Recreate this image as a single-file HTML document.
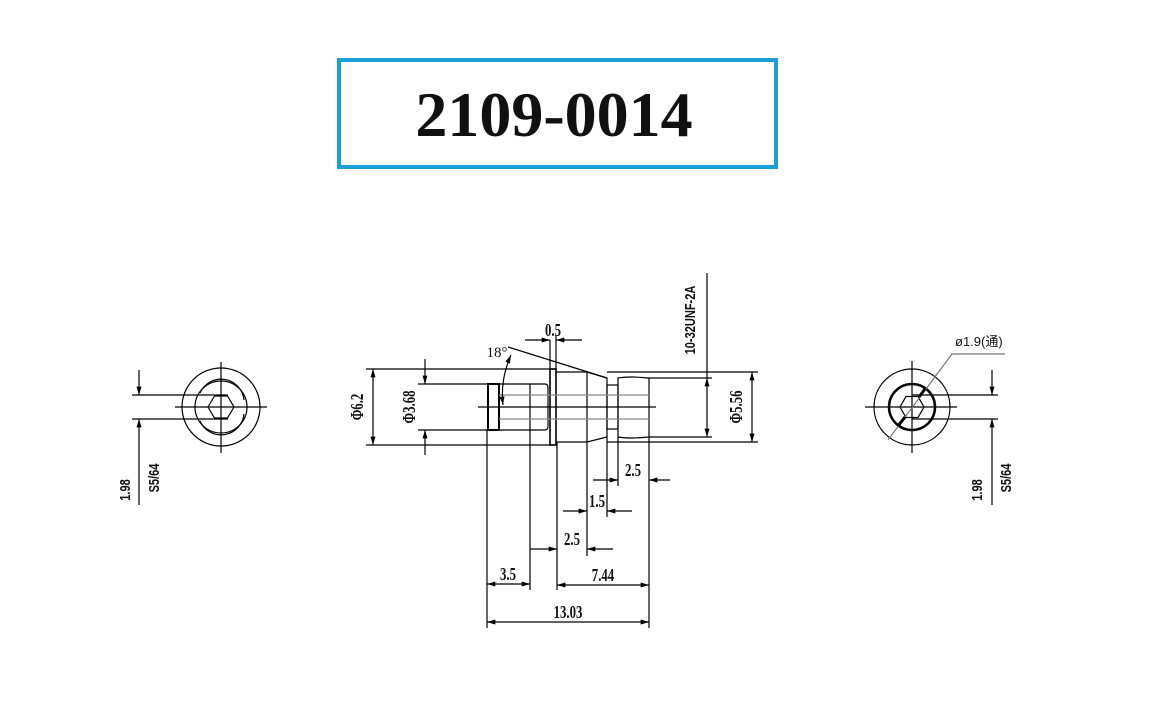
<!DOCTYPE html>
<html><head><meta charset="utf-8"><style>
html,body{margin:0;padding:0;background:#fff;width:1170px;height:726px;overflow:hidden}
svg{display:block}
text{font-family:"Liberation Sans","Noto Sans CJK SC",sans-serif;fill:#111}
.t{font-family:"Liberation Serif","Noto Sans CJK SC",serif;font-size:16px;font-weight:bold}
</style></head><body>
<svg width="1170" height="726" viewBox="0 0 1170 726" xmlns="http://www.w3.org/2000/svg">
<defs>
<marker id="a" viewBox="0 0 10 6" refX="10" refY="3" markerWidth="12" markerHeight="5" orient="auto-start-reverse" markerUnits="userSpaceOnUse"><path d="M0,0 L10,3 L0,6 z" fill="#000"/></marker>
</defs>
<rect x="339" y="60" width="437" height="107" fill="#fff" stroke="#1a9fd6" stroke-width="4"/>
<text x="554" y="136" text-anchor="middle" style="font-family:'Liberation Serif',serif;font-weight:bold;font-size:64px" fill="#000">2109-0014</text>

<g stroke="#000" stroke-width="1.2" fill="none">
<circle cx="221" cy="407" r="39"/>
<circle cx="221" cy="407" r="26"/>
<path d="M200,393 A23,23 0 0 1 244,400"/>
<path d="M244,414 A23,23 0 0 1 200,421" />
<polygon points="208,407 214.5,396 227.5,396 234,407 227.5,418 214.5,418"/>
<line x1="175" y1="407" x2="267" y2="407"/>
<line x1="221" y1="362" x2="221" y2="453"/>
<line x1="132" y1="395" x2="228" y2="395"/>
<line x1="132" y1="419" x2="228" y2="419"/>
<line x1="139" y1="370" x2="139" y2="395" marker-end="url(#a)"/>
<line x1="139" y1="505" x2="139" y2="419" marker-end="url(#a)"/>

<circle cx="912" cy="407" r="38"/>
<circle cx="912" cy="407" r="23" stroke-width="2.5"/>
<polygon points="900,407 906,396.5 918,396.5 924,407 918,417.5 906,417.5"/>
<line x1="865" y1="407" x2="957" y2="407"/>
<line x1="912" y1="361" x2="912" y2="453"/>
<line x1="912" y1="395" x2="998" y2="395"/>
<line x1="912" y1="419" x2="998" y2="419"/>
<line x1="992" y1="370" x2="992" y2="395" marker-end="url(#a)"/>
<line x1="992" y1="505" x2="992" y2="419" marker-end="url(#a)"/>
<polyline points="888,440 952,354 1005,354" stroke="#777"/>
<line x1="905" y1="417" x2="898" y2="426" stroke-width="3"/>
<line x1="919" y1="397" x2="925" y2="389" stroke-width="3"/>

<line x1="478" y1="407" x2="656" y2="407"/>
<rect x="488" y="384" width="11" height="46" stroke-width="2"/>
<line x1="499" y1="384" x2="530" y2="384"/>
<line x1="499" y1="430" x2="530" y2="430"/>
<line x1="530" y1="384" x2="530" y2="430"/>
<path d="M530,384 L545,384 Q548,384 548,388 L548,426 Q548,430 545,430 L530,430"/>
<rect x="550" y="369" width="6" height="76" stroke-width="1.6"/>
<path d="M556,372 L587,372 L607,378 L607,437 L587,442 L556,442"/>
<line x1="587" y1="372" x2="587" y2="442"/>
<rect x="607" y="385" width="11" height="44"/>
<path d="M618,378 Q630,376 648,378 L649,378 L649,437 L648,437 Q630,439 618,437 Z"/>
<line x1="499" y1="395" x2="649" y2="395" stroke="#888"/>
<line x1="499" y1="419" x2="649" y2="419" stroke="#888"/>

<line x1="366" y1="369" x2="553" y2="369"/>
<line x1="366" y1="445" x2="553" y2="445"/>
<line x1="373" y1="407" x2="373" y2="369" marker-end="url(#a)"/>
<line x1="373" y1="407" x2="373" y2="445" marker-end="url(#a)"/>
<line x1="418" y1="384" x2="499" y2="384"/>
<line x1="418" y1="430" x2="499" y2="430"/>
<line x1="425" y1="359" x2="425" y2="384" marker-end="url(#a)"/>
<line x1="425" y1="455" x2="425" y2="430" marker-end="url(#a)"/>
<line x1="649" y1="378" x2="712" y2="378"/>
<line x1="649" y1="437" x2="712" y2="437"/>
<line x1="707" y1="273" x2="707" y2="378"/>
<line x1="707" y1="407" x2="707" y2="378" marker-end="url(#a)"/>
<line x1="707" y1="407" x2="707" y2="437" marker-end="url(#a)"/>
<line x1="607" y1="372" x2="758" y2="372"/>
<line x1="607" y1="442" x2="758" y2="442"/>
<line x1="752" y1="407" x2="752" y2="372" marker-end="url(#a)"/>
<line x1="752" y1="407" x2="752" y2="442" marker-end="url(#a)"/>

<line x1="550" y1="340" x2="550" y2="369"/>
<line x1="556" y1="335" x2="556" y2="369"/>
<line x1="525" y1="340" x2="550" y2="340" marker-end="url(#a)"/>
<line x1="582" y1="340" x2="556" y2="340" marker-end="url(#a)"/>
<line x1="508" y1="347" x2="607" y2="378"/>
<path d="M511,355 Q500,380 503,405" marker-start="url(#a)" marker-end="url(#a)"/>

<line x1="487" y1="430" x2="487" y2="628"/>
<line x1="530" y1="430" x2="530" y2="590"/>
<line x1="557" y1="442" x2="557" y2="590"/>
<line x1="587" y1="442" x2="587" y2="556"/>
<line x1="607" y1="437" x2="607" y2="517"/>
<line x1="618" y1="437" x2="618" y2="486"/>
<line x1="649" y1="437" x2="649" y2="628"/>
<line x1="593" y1="480" x2="618" y2="480" marker-end="url(#a)"/>
<line x1="670" y1="480" x2="649" y2="480" marker-end="url(#a)"/>
<line x1="563" y1="511" x2="587" y2="511" marker-end="url(#a)"/>
<line x1="632" y1="511" x2="607" y2="511" marker-end="url(#a)"/>
<line x1="530" y1="549" x2="557" y2="549" marker-end="url(#a)"/>
<line x1="613" y1="549" x2="587" y2="549" marker-end="url(#a)"/>
<line x1="508" y1="584" x2="487" y2="584" marker-end="url(#a)"/>
<line x1="508" y1="584" x2="530" y2="584" marker-end="url(#a)"/>
<line x1="603" y1="585" x2="557" y2="585" marker-end="url(#a)"/>
<line x1="603" y1="585" x2="649" y2="585" marker-end="url(#a)"/>
<line x1="568" y1="622" x2="487" y2="622" marker-end="url(#a)"/>
<line x1="568" y1="622" x2="649" y2="622" marker-end="url(#a)"/>
</g>

<g>
<text class="t" transform="translate(553,336) scale(0.8,1.1)" text-anchor="middle">0.5</text>
<text class="t" x="497" y="357" text-anchor="middle" style="font-weight:normal;font-size:15px">18°</text>
<text class="t" transform="translate(633,476) scale(0.8,1.1)" text-anchor="middle">2.5</text>
<text class="t" transform="translate(597,507) scale(0.8,1.1)" text-anchor="middle">1.5</text>
<text class="t" transform="translate(572,545) scale(0.8,1.1)" text-anchor="middle">2.5</text>
<text class="t" transform="translate(508,580) scale(0.8,1.1)" text-anchor="middle">3.5</text>
<text class="t" transform="translate(603,581) scale(0.8,1.1)" text-anchor="middle">7.44</text>
<text class="t" transform="translate(568,618) scale(0.8,1.1)" text-anchor="middle">13.03</text>
<text class="t" transform="translate(363,407) rotate(-90) scale(0.8,1.1)" text-anchor="middle">Φ6.2</text>
<text class="t" transform="translate(415,407) rotate(-90) scale(0.8,1.1)" text-anchor="middle">Φ3.68</text>
<text class="t" transform="translate(742,407) rotate(-90) scale(0.8,1.1)" text-anchor="middle">Φ5.56</text>
<text class="t" transform="translate(695,320) rotate(-90) scale(0.85,1.1)" text-anchor="middle" style="font-family:'Liberation Sans',sans-serif;font-size:13px">10-32UNF-2A</text>
<text class="t" transform="translate(130,490) rotate(-90) scale(0.85,1.1)" text-anchor="middle" style="font-family:'Liberation Sans',sans-serif;font-size:13px">1.98</text>
<text class="t" transform="translate(159,478) rotate(-90) scale(0.85,1.1)" text-anchor="middle" style="font-family:'Liberation Sans',sans-serif;font-size:13px">S5/64</text>
<text class="t" transform="translate(982,490) rotate(-90) scale(0.85,1.1)" text-anchor="middle" style="font-family:'Liberation Sans',sans-serif;font-size:13px">1.98</text>
<text class="t" transform="translate(1011,478) rotate(-90) scale(0.85,1.1)" text-anchor="middle" style="font-family:'Liberation Sans',sans-serif;font-size:13px">S5/64</text>
<text x="955" y="346" style="font-size:13px">ø1.9(通)</text>
</g>
</svg>
</body></html>
